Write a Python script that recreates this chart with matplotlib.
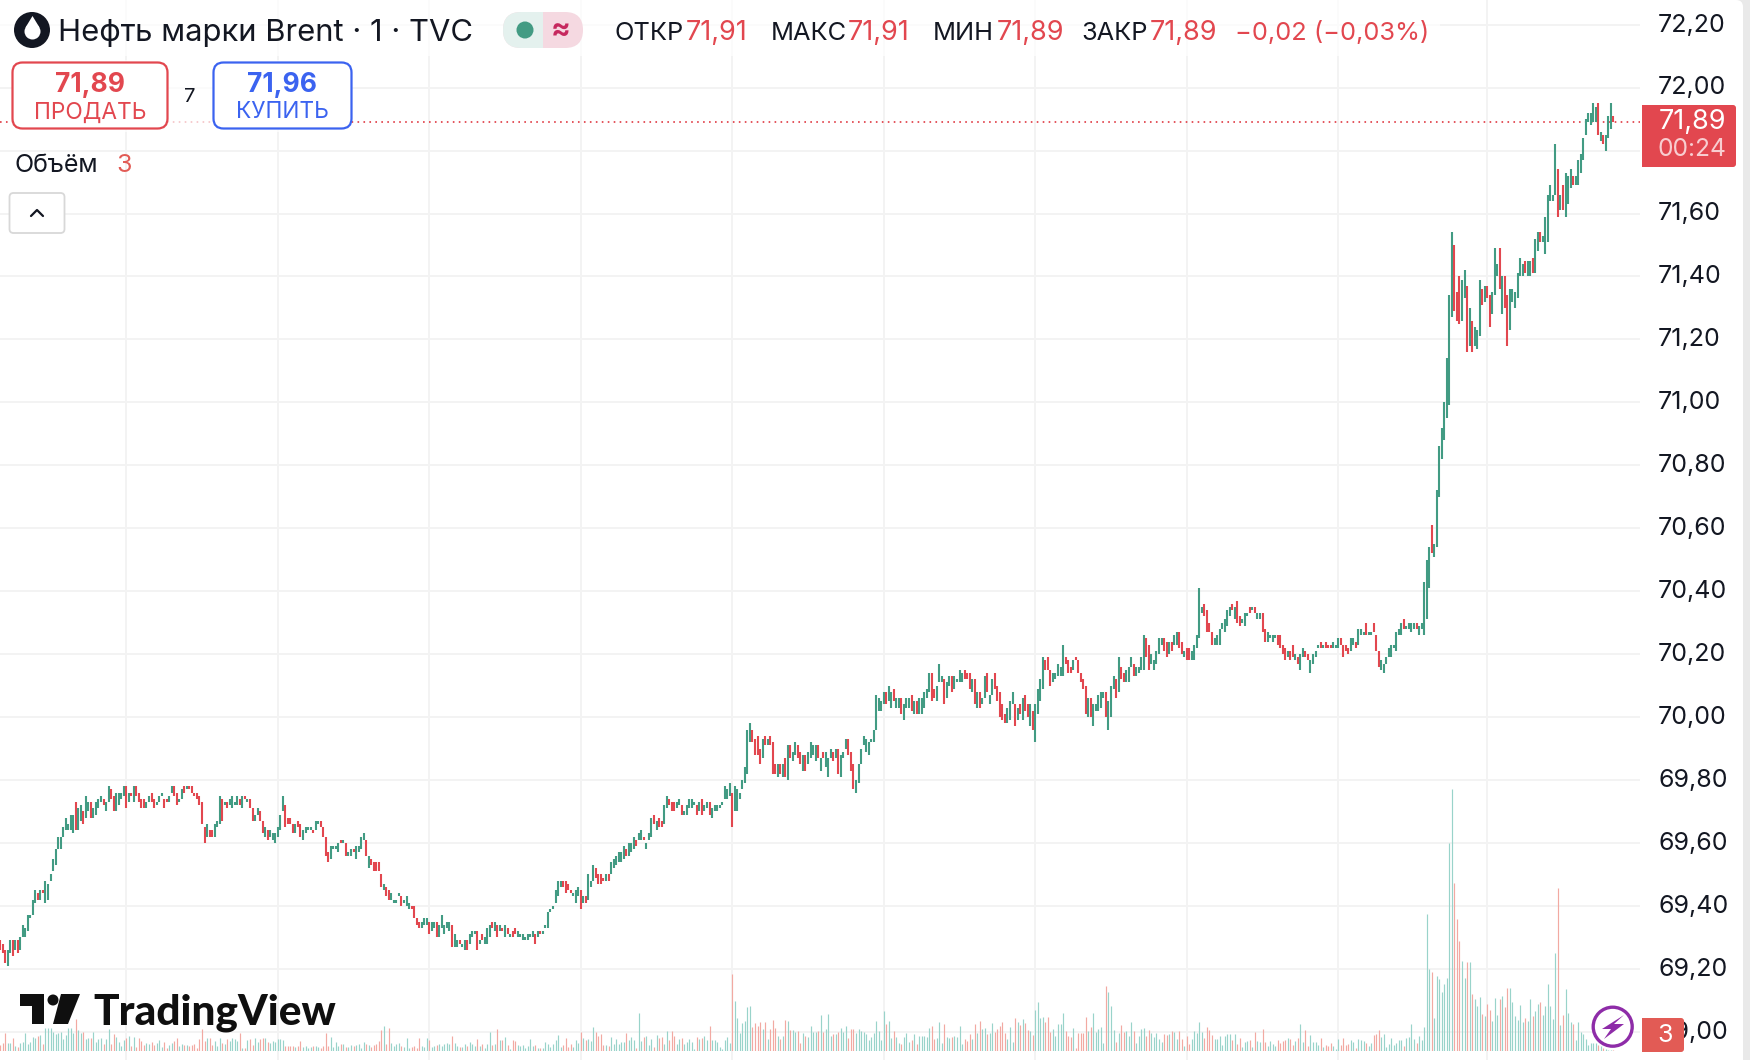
import numpy as np
import matplotlib
matplotlib.use("Agg")
import matplotlib.pyplot as plt
from matplotlib import patches
from matplotlib.transforms import ScaledTranslation

plt.rcParams['font.family'] = ['Inter', 'DejaVu Sans']

# bar range per minute, in hundredths of a price point
highs = [
    6929,6928,6926,6926,6929,6929,6929,6929,6930,6934, 6933,6937,6937,6942,6945,6944,6945,6945,6948,6947,
    6950,6955,6958,6962,6962,6965,6968,6966,6969,6969, 6973,6971,6972,6970,6975,6973,6973,6971,6973,6974,
    6975,6974,6973,6978,6977,6975,6976,6976,6976,6978, 6978,6976,6976,6978,6978,6976,6974,6974,6973,6975,
    6976,6974,6973,6975,6976,6974,6974,6975,6978,6978, 6976,6974,6977,6978,6978,6978,6978,6976,6976,6975,
    6973,6965,6966,6964,6964,6966,6967,6975,6974,6973, 6973,6974,6975,6973,6975,6974,6975,6975,6974,6974,
    6971,6969,6971,6970,6967,6965,6964,6964,6963,6963, 6965,6969,6975,6972,6968,6968,6966,6966,6967,6966,
    6964,6965,6965,6965,6964,6967,6967,6967,6965,6962, 6957,6959,6959,6959,6960,6961,6961,6960,6957,6958,
    6958,6959,6959,6962,6963,6961,6956,6955,6954,6954, 6954,6950,6947,6946,6945,6944,6942,6942,6944,6943,
    6942,6943,6941,6940,6940,6936,6935,6935,6936,6936, 6935,6935,6935,6935,6934,6937,6934,6935,6935,6934,
    6931,6929,6929,6928,6929,6929,6931,6932,6932,6932, 6929,6931,6930,6933,6934,6935,6935,6934,6934,6933,
    6934,6933,6931,6932,6933,6932,6931,6931,6930,6931, 6931,6932,6931,6932,6932,6932,6934,6938,6939,6940,
    6945,6948,6948,6948,6948,6947,6945,6944,6945,6946, 6945,6943,6943,6950,6948,6953,6952,6950,6950,6949,
    6950,6950,6954,6955,6956,6957,6957,6959,6958,6960, 6960,6962,6961,6963,6964,6962,6960,6963,6968,6969,
    6967,6968,6967,6972,6975,6974,6973,6973,6973,6974, 6972,6970,6972,6974,6974,6973,6972,6973,6974,6972,
    6973,6973,6971,6972,6972,6972,6973,6978,6977,6979, 6976,6978,6977,6976,6980,6984,6996,6998,6996,6993,
    6994,6990,6993,6994,6993,6994,6992,6985,6985,6985, 6985,6987,6991,6991,6989,6992,6991,6989,6988,6988,
    6989,6992,6991,6991,6991,6987,6989,6989,6987,6990, 6989,6990,6990,6988,6989,6993,6993,6989,6985,6980,
    6985,6990,6994,6993,6992,6993,6996,7007,7006,7005, 7008,7008,7010,7008,7009,7006,7006,7006,7004,7006,
    7006,7007,7005,7005,7006,7006,7008,7009,7014,7014, 7009,7010,7017,7013,7012,7011,7013,7013,7013,7012,
    7015,7014,7015,7014,7014,7012,7012,7008,7008,7006, 7013,7014,7007,7012,7014,7010,7008,7004,7001,7003,
    7005,7008,7004,7003,7004,7006,7007,7004,7004,7002, 7004,7009,7012,7019,7018,7019,7015,7014,7014,7017,
    7016,7023,7019,7018,7016,7018,7019,7018,7014,7012, 7010,7006,7006,7004,7004,7007,7008,7008,7008,7005,
    7010,7013,7012,7019,7016,7014,7015,7016,7019,7017, 7016,7016,7019,7026,7025,7023,7020,7018,7021,7025,
    7025,7025,7024,7024,7024,7026,7027,7027,7024,7021, 7022,7022,7021,7023,7026,7041,7035,7036,7034,7030,
    7027,7025,7026,7028,7030,7031,7034,7035,7036,7035, 7037,7032,7031,7033,7033,7035,7035,7035,7033,7033,
    7033,7028,7027,7026,7026,7026,7026,7026,7023,7022, 7021,7021,7023,7020,7019,7020,7022,7021,7020,7018,
    7020,7021,7023,7024,7023,7024,7023,7023,7024,7023, 7025,7025,7023,7023,7022,7025,7025,7024,7028,7028,
    7027,7030,7027,7027,7030,7026,7021,7018,7017,7019, 7022,7023,7023,7027,7028,7030,7031,7029,7030,7030,
    7030,7030,7029,7030,7043,7050,7054,7061,7055,7072, 7086,7092,7100,7114,7134,7154,7150,7135,7140,7139,
    7142,7137,7130,7126,7124,7123,7139,7136,7137,7137, 7134,7135,7149,7144,7149,7140,7140,7134,7136,7136,
    7135,7141,7146,7144,7145,7145,7145,7146,7152,7154, 7154,7153,7159,7166,7169,7166,7182,7174,7166,7169,
    7173,7172,7174,7172,7172,7177,7179,7184,7190,7192, 7192,7195,7194,7195,7186,7185,7185,7191,7195,7191,
]
lows = [
    6926,6925,6922,6921,6925,6924,6926,6925,6926,6930, 6930,6932,6936,6937,6941,6942,6942,6944,6941,6942,
    6948,6951,6953,6958,6958,6962,6964,6964,6964,6963, 6964,6964,6967,6966,6968,6970,6968,6968,6969,6971,
    6973,6972,6970,6973,6974,6970,6970,6972,6974,6975, 6971,6973,6975,6973,6975,6973,6971,6971,6971,6973,
    6973,6971,6972,6973,6975,6971,6973,6973,6976,6975, 6972,6973,6974,6976,6977,6977,6976,6975,6974,6972,
    6966,6960,6962,6962,6962,6962,6965,6966,6967,6972, 6971,6972,6971,6972,6972,6972,6971,6974,6973,6971,
    6967,6967,6969,6967,6963,6962,6961,6962,6961,6960, 6962,6964,6970,6965,6966,6966,6963,6963,6965,6962,
    6961,6963,6964,6964,6963,6964,6966,6965,6962,6956, 6954,6955,6958,6958,6957,6960,6960,6956,6956,6956,
    6957,6955,6957,6958,6961,6956,6952,6953,6951,6951, 6951,6946,6945,6943,6942,6942,6941,6941,6943,6940,
    6941,6940,6939,6939,6936,6934,6933,6933,6934,6934, 6931,6932,6933,6930,6930,6933,6931,6933,6932,6927,
    6927,6927,6928,6927,6926,6926,6928,6930,6931,6926, 6928,6929,6928,6928,6930,6933,6932,6930,6932,6932,
    6930,6931,6930,6930,6931,6930,6930,6929,6929,6929, 6930,6930,6928,6930,6931,6931,6933,6933,6938,6939,
    6941,6943,6946,6946,6944,6945,6944,6943,6941,6943, 6939,6941,6941,6942,6946,6948,6949,6947,6947,6948,
    6948,6948,6950,6952,6953,6954,6954,6955,6956,6956, 6957,6958,6959,6961,6961,6961,6958,6961,6962,6966,
    6964,6965,6965,6966,6971,6972,6970,6970,6971,6972, 6969,6969,6969,6971,6971,6972,6969,6970,6969,6970,
    6971,6969,6968,6970,6970,6971,6972,6974,6974,6975, 6965,6970,6970,6974,6977,6979,6982,6992,6992,6988,
    6988,6985,6987,6991,6991,6991,6982,6982,6981,6982, 6981,6981,6980,6987,6986,6988,6987,6985,6983,6983,
    6985,6987,6988,6986,6987,6983,6987,6984,6981,6987, 6986,6987,6982,6981,6987,6990,6988,6983,6977,6976,
    6979,6985,6991,6989,6988,6992,6992,6996,7002,7002, 7004,7004,7005,7003,7005,7003,7003,7001,6999,7003,
    7003,7002,7001,7001,7001,7001,7003,7006,7008,7005, 7006,7005,7011,7011,7004,7006,7010,7008,7009,7011,
    7011,7011,7012,7012,7009,7008,7004,7003,7003,7004, 7006,7008,7004,7007,7009,7005,7000,6999,6998,6998,
    6999,7004,6997,6999,7001,6999,7002,7000,6997,6996, 6992,7001,7005,7009,7015,7015,7010,7011,7012,7013,
    7013,7013,7017,7014,7014,7015,7018,7014,7011,7009, 7001,7000,7000,6997,7002,7002,7003,7006,7000,6996,
    7000,7009,7006,7008,7012,7011,7011,7011,7016,7013, 7013,7014,7015,7015,7019,7015,7017,7015,7017,7020,
    7023,7021,7019,7020,7021,7023,7023,7022,7020,7019, 7018,7018,7018,7018,7022,7025,7033,7032,7027,7027,
    7023,7023,7023,7023,7028,7027,7029,7032,7034,7031, 7030,7029,7030,7029,7032,7033,7034,7033,7031,7031,
    7027,7024,7024,7025,7024,7025,7023,7022,7020,7018, 7019,7018,7019,7018,7017,7015,7019,7019,7018,7014,
    7017,7019,7022,7022,7022,7022,7022,7022,7022,7022, 7022,7023,7019,7021,7020,7021,7023,7022,7023,7026,
    7026,7026,7026,7026,7027,7021,7016,7015,7014,7017, 7019,7019,7022,7021,7026,7026,7028,7028,7028,7027,
    7028,7028,7026,7028,7026,7031,7041,7052,7051,7054, 7070,7082,7088,7095,7099,7127,7129,7126,7125,7126,
    7133,7116,7118,7116,7118,7117,7121,7131,7132,7133, 7124,7128,7134,7140,7136,7128,7130,7118,7123,7132,
    7130,7133,7140,7140,7141,7140,7140,7141,7141,7148, 7151,7151,7147,7151,7164,7164,7166,7159,7161,7161,
    7159,7163,7168,7169,7169,7169,7173,7177,7185,7189, 7188,7189,7189,7185,7183,7182,7180,7184,7187,7189,
]
# u = closed up, d = closed down
directions = (
    "ddduududuu" "uuuuududuu" "uuuuuuuuuu" "duuduuduuu" "uduudduuuu" "dududddduu" "dduuudduud" "duududdddd"
    "ddudduuudu" "duuuududud" "duudduduuu" "uuuddddudd" "uuuuduuddd" "duuuududuu" "duuuududdd" "ddudduuuud"
    "uuudddduuu" "duuduuuuud" "uuduuduuud" "uduuududud" "ududduuuuu" "uududuuuuu" "uuudddduuu" "duduuudddd"
    "uduuuuuudu" "uuduuduuud" "udduuddduu" "duuuuududu" "uduuuuuuuu" "duuuuuuudd" "ddududddud" "ududuuddud"
    "uuuududuuu" "duduuudddu" "uuuuuuuuuu" "uduuduuduu" "ududuuuuud" "duuuduuduu" "uudddududu" "uduudddddu"
    "uudududdud" "uuuuddduuu" "uudddudddd" "duduuuuudu" "uududduuud" "uuuudduuuu" "udduduuddu" "dduuuuuddd"
    "duuuuuuudu" "dduuududuu" "dduuuudddd" "udduduuddu" "uuududdduu" "udddduuduu" "uduuddduuu" "uuuuuuduuu"
    "uduuuuuduu" "uuuuuudddu" "ududuuudud" "duuududduu" "uuuuduuduu" "duuuuuudud" "uuuduuuuuu" "uuududuuud"
)
volumes = [
    18,24,54,24,24,40,16,12,24,27, 55,22,27,42,38,45,47,20,70,70, 70,58,50,55,58,35,48,70,70,55,
    95,62,55,56,35,38,40,56,28,35, 38,22,35,65,22,50,42,28,15,33, 38,45,15,42,12,38,30,18,25,20,
    28,18,24,32,12,28,8,18,24,30, 40,14,22,18,18,16,18,22,8,35, 65,30,40,38,18,30,14,40,25,22,
    35,30,40,35,30,55,10,8,32,35, 18,38,28,35,40,38,28,25,30,26, 35,35,33,14,15,14,14,12,16,30,
    12,14,8,12,15,14,12,10,14,55, 14,42,12,28,15,22,20,12,12,18, 15,18,22,10,28,22,18,12,18,20,
    30,62,75,20,70,25,15,22,25,15, 12,38,8,12,15,10,38,14,12,38, 32,12,14,18,22,15,22,25,20,45,
    25,14,12,12,22,14,28,20,15,35, 15,22,8,20,57,18,20,65,
    33,33,42,18,6,33,30,18,15,18, 9,15,36,15,18,9,9,9,27,21, 12,21,33,48,12,18,39,12,21,12,
    33,24,57,39,33,36,30,72,57,45, 51,18,18,15,42,21,36,21,27,27, 54,33,42,33,9,114,30,42,45,18,
    36,12,48,39,42,21,60,33,60,45, 21,36,39,21,27,36,27,6,42,36, 39,45,33,75,33,33,27,12,6,33,
    42,24,231,150,99,54,84,90,132,135, 72,84,75,87,66,87,36,66,93,69, 45,36,45,93,90,63,63,57,60,24,
    54,45,42,75,57,57,60,108,57,66, 111,45,51,51,57,69,57,75,39,66, 66,54,66,60,57,51,33,42,54,90,
    60,33,120,81,90,39,60,42,24,21, 42,54,27,33,51,21,45,45,45,42, 69,75,36,39,87,24,81,42,39,42,
    45,42,75,21,36,30,51,36,81,54, 90,66,69,51,54,84,57,66,
    75,87,54,36,72,27,99,87,78,96, 84,63,60,48,123,147,99,102,87,102, 57,66,45,81,81,114,60,45,42,69,
    9,54,54,54,102,60,72,114,57,66, 72,24,195,177,135,63,27,54,78,57, 60,45,87,60,24,45,66,69,45,63,
    54,42,54,36,27,51,48,51,60,57, 36,60,36,15,45,21,36,60,54,87, 57,39,72,63,48,36,36,45,18,45,
    51,51,33,51,21,39,12,27,30,33, 12,57,30,27,66,27,15,30,21,15, 33,24,30,33,39,36,18,30,39,81,
    27,63,15,48,27,27,18,39,12,18, 15,24,15,6,36,18,39,18,21,33, 27,9,36,33,30,24,15,24,48,51,
    63,42,51,12,21,39,18,24,33,33, 15,39,42,81,36,24,45,33,72,
    411,246,237,99,225,216,177,201,219,624, 786,504,396,330,270,219,267,267,171,156,
    135,162,111,105,141,123,90,159,108,156, 165,132,189,189,147,105,93,138,87,99,
    90,156,105,120,141,147,108,135,201,135, 96,294,489,78,108,186,114,87,81,33,
    87,57,51,36,18,24,24,24,18,15, 9,6,3,3,3,
]
price_ticks = [69.0 + 0.2 * k for k in range(17)]
hour_bars = [50, 110, 170, 230, 290, 350, 410, 470, 530, 589]
last_price = 71.89

GREEN = "#429B83"
RED = "#E2474F"
VOL_GREEN = "#99D3CA"
VOL_RED = "#F2A9A2"
BLUE = "#3B63F0"
INK = "#131722"
GRID = "#F3F3F3"

W, H = 1750, 1060
PANE_W = 1640
BAR_STEP = 2.525
PX_PER_POINT = 314.7
PRICE_TOP_Y = 24.7

fig = plt.figure(figsize=(W / 100, H / 100), dpi=100, facecolor="#E9E9E9")

# white card behind everything, with the rounded top right corner
bg = fig.add_axes([0, 0, 1, 1], zorder=-1)
bg.set_xlim(0, W)
bg.set_ylim(H, 0)
bg.axis("off")
bg.add_patch(patches.FancyBboxPatch((-20, 0), 1763, 1090, boxstyle="round,pad=0,rounding_size=7",
                                    fc="white", ec="none"))

x = np.arange(len(highs))
up = np.array([d == "u" for d in directions])
bar_colors = [GREEN if u else RED for u in up]
vol_colors = [VOL_GREEN if u else VOL_RED for u in up]

ax = fig.add_axes([0, 0, PANE_W / W, 1], zorder=1)
ax.patch.set_visible(False)
ax.set_xlim(0, PANE_W / BAR_STEP)
ax.set_ylim(72.20 - (H - PRICE_TOP_Y) / PX_PER_POINT, 72.20 + PRICE_TOP_Y / PX_PER_POINT)
for s in ax.spines.values():
    s.set_visible(False)
ax.set_xticks(hour_bars)
ax.set_xticklabels([])
ax.set_yticks(price_ticks)
ax.set_yticklabels([f"{v:.2f}".replace(".", ",") for v in price_ticks])
ax.yaxis.tick_right()
ax.tick_params(axis="both", length=0)
ax.tick_params(axis="y", labelsize=18, pad=13, labelcolor=INK)
# the price labels sit a little above their grid lines
up_shift = ScaledTranslation(0, 2.2 / 100, fig.dpi_scale_trans)
for t in ax.get_yticklabels():
    t.set_transform(t.get_transform() + up_shift)
ax.grid(True, color=GRID, linewidth=1.4)
ax.set_axisbelow(True)
ax.axhline(last_price, color=RED, linewidth=1.3, linestyle=(0, (0.9, 2.4)), zorder=1.5)
ax.vlines(x, np.array(lows) / 100, np.array(highs) / 100, colors=bar_colors, linewidth=1.5,
          capstyle="butt", zorder=3)

vol = fig.add_axes([0, 9 / H, PANE_W / W, 271 / H], zorder=2)
vol.patch.set_visible(False)
vol.axis("off")
vol.set_xlim(0, PANE_W / BAR_STEP)
vol.set_ylim(0, 813)
vol.vlines(x, 0, volumes, colors=vol_colors, linewidth=0.85, capstyle="butt")

# everything below is chart furniture, placed in pixels
top = fig.add_axes([0, 0, 1, 1], zorder=5)
top.set_xlim(0, W)
top.set_ylim(H, 0)
top.axis("off")
top.patch.set_visible(False)


def label(px, py, s, color=INK, size=18, ha="left", weight="normal", **kw):
    top.text(px, py, s, color=color, fontsize=size, ha=ha, va="center", fontweight=weight, **kw)


def box(px, py, w, h, fc, ec="none", lw=0, r=8, alpha=None):
    top.add_patch(patches.FancyBboxPatch((px, py), w, h, boxstyle=f"round,pad=0,rounding_size={r}",
                                         fc=fc, ec=ec, lw=lw, alpha=alpha))


top.add_patch(patches.Rectangle((0, 0), 1440, 56, fc="white", alpha=0.75, ec="none"))
top.add_patch(patches.Rectangle((12, 60), 340, 72, fc="white", alpha=0.7, ec="none"))

# symbol icon
top.add_patch(patches.Circle((32, 30), 18, fc="#131722", ec="none"))
top.add_patch(patches.Circle((32.5, 31.5), 8, fc="white", ec="none"))
top.add_patch(patches.Polygon([(32.5, 16), (25.5, 27.5), (39.5, 27.5)], fc="white", ec="none"))
label(58, 33, "Нефть марки Brent · 1 · TVC", size=22.3)

# market status pill
top.add_patch(patches.FancyBboxPatch((503, 12), 80, 36, boxstyle="round,pad=0,rounding_size=18",
                                     fc="#F5D9E1", ec="none"))
left_half = patches.FancyBboxPatch((503, 12), 80, 36, boxstyle="round,pad=0,rounding_size=18",
                                   fc="#E4F1EE", ec="none")
top.add_patch(left_half)
left_half.set_clip_path(patches.Rectangle((503, 12), 40, 36, transform=top.transData))
top.add_patch(patches.Circle((525, 30), 8.5, fc=GREEN, ec="none"))
label(561, 30, "≈", color="#C6285E", size=21, ha="center", weight="bold")

# OHLC row
for px, s in [(615, "ОТКР"), (771, "МАКС"), (933, "МИН"), (1081, "ЗАКР")]:
    label(px, 33, s, size=18.3)
for px, s in [(686, "71,91"), (848, "71,91"), (997, "71,89"), (1150, "71,89")]:
    label(px, 33, s, color=RED, size=19.5)
label(1235, 33, "−0,02 (−0,03%)", color=RED, size=18.3)

# sell and buy buttons
box(12.5, 62.5, 155, 66, "white", ec=RED, lw=1.6, r=10)
label(90, 85.5, "71,89", color=RED, ha="center", weight="bold", size=19)
label(90, 112.5, "ПРОДАТЬ", color=RED, ha="center", size=16.3)
label(190, 97, "7", size=14.5, ha="center")
box(213.5, 62.5, 138, 66, "white", ec=BLUE, lw=1.6, r=10)
label(282, 85.5, "71,96", color=BLUE, ha="center", weight="bold", size=19)
label(282, 112.5, "КУПИТЬ", color=BLUE, ha="center", size=16.3)

# volume legend and collapse button
label(14.5, 165, "Объём", size=18)
label(116, 165, "3", color="#E25B55", size=18)
box(9.5, 193, 55, 40, "white", ec="#D8D8D8", lw=1.3, r=4)
top.plot([31, 37, 43], [216, 210, 216], color=INK, lw=1.6, solid_capstyle="round")

# last price tag
box(1642, 105, 94, 62, RED, r=3)
top.add_patch(patches.Rectangle((1642, 105), 10, 62, fc=RED, ec="none"))
label(1692, 122, "71,89", color="white", ha="center", size=19.5)
label(1692, 149, "00:24", color="#F8CDD0", ha="center", size=17.7)

# logo
top.add_patch(patches.Polygon([(20, 994), (44, 994), (44, 1024), (32, 1024), (32, 1006), (20, 1006)],
                              fc="#0F0F0F", ec="none"))
top.add_patch(patches.Circle((53, 1000), 5.5, fc="#0F0F0F", ec="none"))
top.add_patch(patches.Polygon([(61, 994), (80, 994), (68, 1024), (53, 1024)], fc="#0F0F0F", ec="none"))
top.text(93, 1024, "TradingView", color="#0F0F0F", fontsize=30.5, fontweight=900, family="Lato",
         ha="left", va="baseline")

# bottom right controls
top.add_patch(patches.Circle((1612.7, 1026.7), 19.5, fc="white", ec="#8E2CA8", lw=2.4))
top.add_patch(patches.Polygon([(1624, 1015), (1602, 1029), (1611, 1029), (1604, 1039), (1624, 1024), (1614, 1024)],
                              fc="#8E2CA8", ec="none"))
box(1642, 1018, 42, 34, "#E25B55", r=3)
top.add_patch(patches.Rectangle((1642, 1018), 10, 34, fc="#E25B55", ec="none"))
label(1665, 1035, "3", color="white", ha="center")

fig.savefig("out.png", dpi=100, facecolor=fig.get_facecolor())
